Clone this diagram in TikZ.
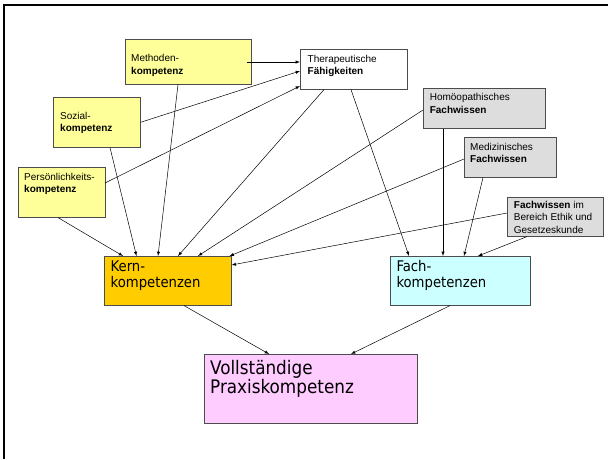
\documentclass[tikz,border=0pt]{standalone}
\usepackage{fontspec}
\setmainfont{Liberation Sans}
\newfontfamily\tahomafont{DejaVu Sans Condensed}
\usepackage{xcolor}
\usetikzlibrary{calc}

\definecolor{lightyellow}{HTML}{FFFF99}
\definecolor{lightgrey}{HTML}{DDDDDD}
\definecolor{kerngold}{HTML}{FFCC00}
\definecolor{fachcyan}{HTML}{CCFFFF}
\definecolor{praxispink}{HTML}{FFCCFF}

\begin{document}
\begin{tikzpicture}[
    x=1pt, y=-1pt,
    box/.style={rectangle, draw=black!70, line width=0.6pt, anchor=north west, inner sep=0pt},
    small/.style={anchor=base west, align=left, inner sep=0pt, font=\fontsize{10}{12.5}\selectfont},
    big/.style={anchor=base west, align=left, inner sep=0pt, font=\tahomafont\fontsize{14.7}{15.8}\selectfont},
    huge/.style={anchor=base west, align=left, inner sep=0pt, font=\tahomafont\fontsize{18.7}{19.5}\selectfont},
    arrow/.style={->, >=latex, line width=0.5pt}
]
    \useasboundingbox (0,0) rectangle (608,459);
    % frame
    \draw[line width=2pt] (4,459) -- (4,5) -- (608,5);

    % boxes
    \node[box, fill=lightyellow, minimum width=126, minimum height=45] (meth) at (125,39) {};
    \node[box, fill=white, minimum width=107, minimum height=40] (ther) at (300,49) {};
    \node[box, fill=lightyellow, minimum width=87, minimum height=50] (soz) at (53,97) {};
    \node[box, fill=lightyellow, minimum width=87, minimum height=50] (pers) at (18,167) {};
    \node[box, fill=lightgrey, minimum width=122, minimum height=40] (homoe) at (423,88) {};
    \node[box, fill=lightgrey, minimum width=92, minimum height=40] (med) at (464,137) {};
    \node[box, fill=lightgrey, minimum width=96, minimum height=39] (ethik) at (507,197) {};
    \node[box, fill=kerngold, minimum width=127, minimum height=49] (kern) at (104,256) {};
    \node[box, fill=fachcyan, minimum width=140, minimum height=49] (fach) at (390,256) {};
    \node[box, fill=praxispink, minimum width=213, minimum height=69] (voll) at (204,354) {};

    % texts (anchored at the baseline of the last line)
    \node[small] (meth-txt) at ($(meth.north west)+(6,35)$) {Methoden-\\\textbf{kompetenz}};
    \node[small] (ther-txt) at ($(ther.north west)+(7.5,25.5)$) {Therapeutische\\\textbf{Fähigkeiten}};
    \node[small] (soz-txt) at ($(soz.north west)+(7,34.5)$) {Sozial-\\\textbf{kompetenz}};
    \node[small] (pers-txt) at ($(pers.north west)+(6,25.5)$) {Persönlichkeits-\\\textbf{kompetenz}};
    \node[small] (homoe-txt) at ($(homoe.north west)+(6.6,25)$) {Homöopathisches\\\textbf{Fachwissen}};
    \node[small] (med-txt) at ($(med.north west)+(6,25.5)$) {Medizinisches\\\textbf{Fachwissen}};
    \node[small] (ethik-txt) at ($(ethik.north west)+(6.7,36)$) {\textbf{Fachwissen} im\\Bereich Ethik und\\Gesetzeskunde};
    \node[big] (kern-txt) at ($(kern.north west)+(6.5,31.5)$) {Kern-\\kompetenzen};
    \node[big] (fach-txt) at ($(fach.north west)+(6.3,31.5)$) {Fach-\\kompetenzen};
    \node[huge] (voll-txt) at ($(voll.north west)+(6,39.5)$) {Vollständige\\Praxiskompetenz};

    % into Therapeutische Faehigkeiten
    \draw[arrow] ($(meth.north west)+(122,23)$) -- ($(ther.north west)+(0,13)$);
    \draw[arrow] (soz.east) -- ($(ther.north west)+(0,22)$);
    \draw[arrow] ($(pers.north west)+(87,16)$) -- ($(ther.north west)+(0,37)$);

    % into Kernkompetenzen
    \draw[arrow] ($(meth.south west)+(53,0)$) -- ($(kern.north west)+(54,0)$);
    \draw[arrow] ($(soz.south west)+(57,0)$) -- ($(kern.north west)+(32.5,0)$);
    \draw[arrow] ($(pers.south west)+(40,0)$) -- ($(kern.north west)+(19,0)$);
    \draw[arrow] ($(ther.south west)+(24,0)$) -- ($(kern.north west)+(74,0)$);
    \draw[arrow] ($(homoe.north west)+(0,22)$) -- ($(kern.north west)+(94,0)$);
    \draw[arrow] ($(med.north west)+(0,22)$) -- ($(kern.north east)+(-2,0)$);
    \draw[arrow] ($(ethik.north west)+(0,16)$) -- ($(kern.north east)+(0,9)$);

    % into Fachkompetenzen
    \draw[arrow] ($(ther.south west)+(51,0)$) -- ($(fach.north west)+(19,0)$);
    \draw[arrow] ($(homoe.south west)+(20,0)$) -- ($(fach.north west)+(53,0)$);
    \draw[arrow] ($(med.south west)+(19,0)$) -- ($(fach.north west)+(74,0)$);
    \draw[arrow] ($(ethik.south west)+(20,0)$) -- ($(fach.north west)+(88,0)$);

    % into Praxiskompetenz
    \draw[arrow] ($(kern.south west)+(80,0)$) -- ($(voll.north west)+(65,0)$);
    \draw[arrow] ($(fach.south west)+(60,0)$) -- ($(voll.north west)+(147,0)$);
\end{tikzpicture}
\end{document}
